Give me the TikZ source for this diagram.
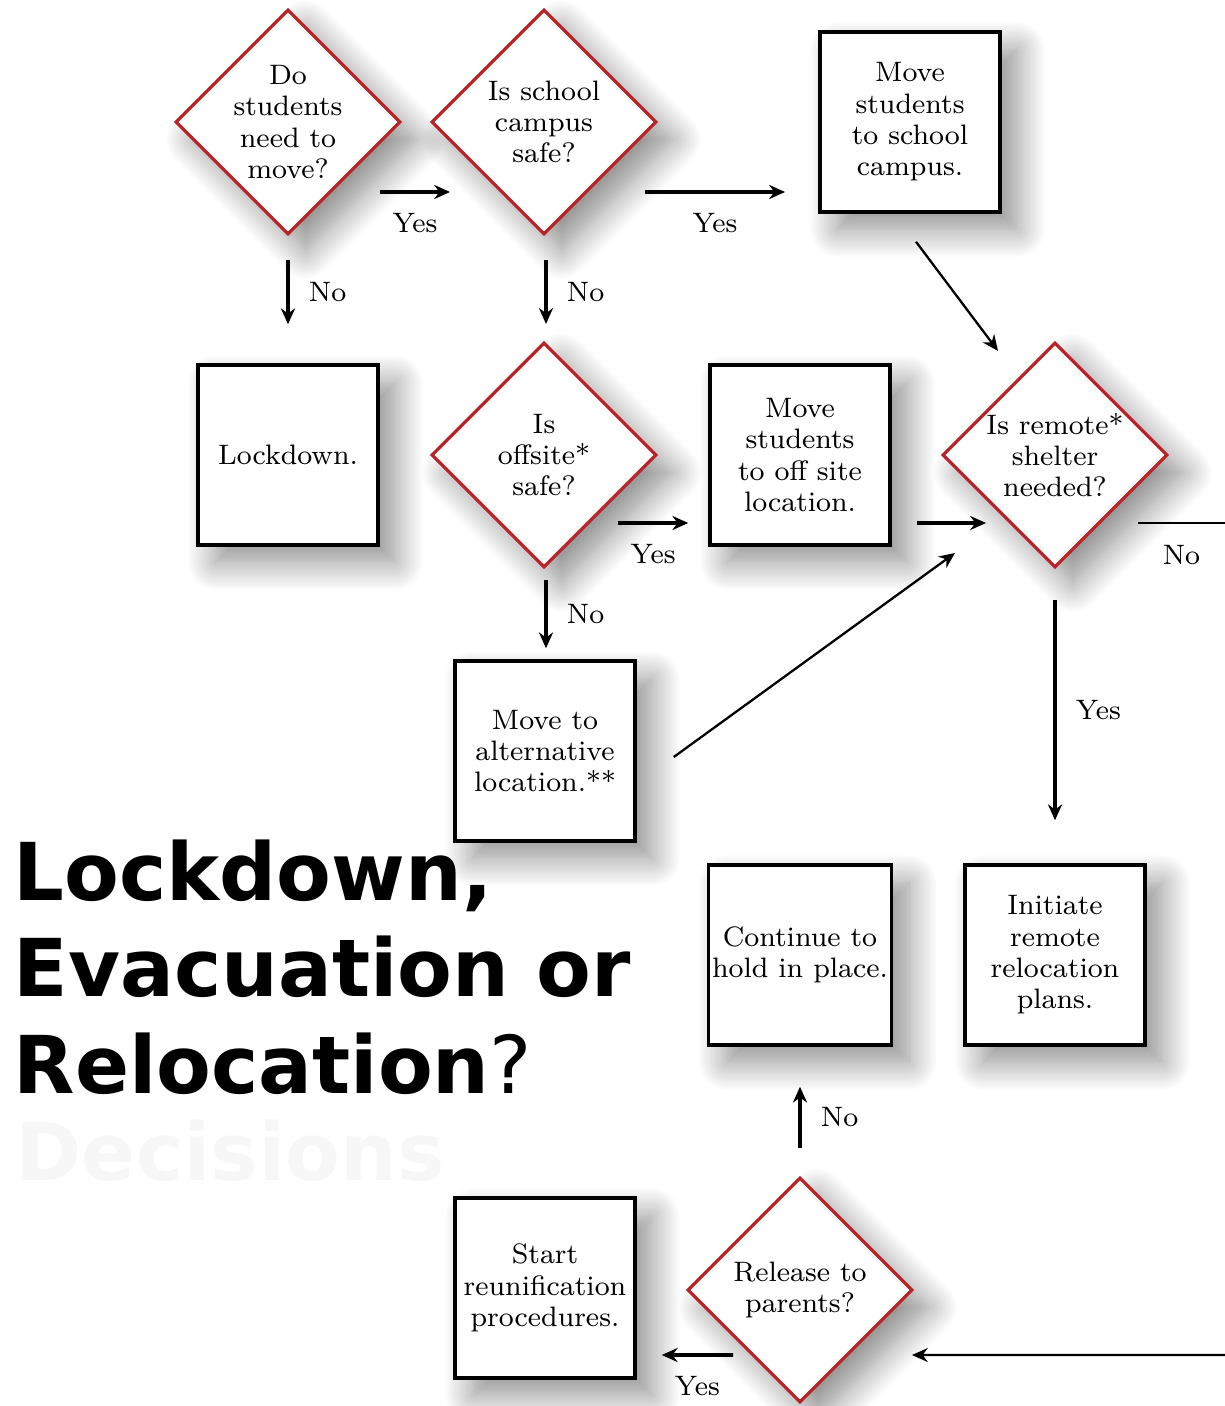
\documentclass[tikz,border=0pt]{standalone}
\usepackage{fontspec}
\usepackage{tikz}
\usetikzlibrary{shapes.geometric,arrows.meta,calc,shadows.blur}
\newfontfamily\headfont{DejaVu Sans}
\newcommand{\boxfont}{\fontsize{8}{8.9}\selectfont}
\definecolor{decred}{RGB}{185,35,40}
\tikzset{
  softshadow/.style={blur shadow={shadow xshift=5pt, shadow yshift=-5pt, shadow opacity=45,
    shadow blur radius=8pt, shadow blur steps=24}},
  decision/.style={diamond, aspect=1, draw=decred, line width=0.9pt, fill=white,
    minimum size=2.25cm, inner sep=0pt, align=center, font=\boxfont, softshadow},
  action/.style={rectangle, draw=black, line width=1pt, fill=white,
    minimum size=1.8cm, inner sep=1pt, align=center, font=\boxfont, softshadow},
  arr/.style={line width=1.1pt, -{Stealth[length=4.5pt,width=4pt]}},
  thinarr/.style={line width=0.65pt, -{Stealth[length=4.5pt,width=4pt]}},
  lbl/.style={font=\boxfont, inner sep=2pt},
  headline/.style={anchor=base west, inner sep=0pt, font=\headfont\bfseries\fontsize{22.7}{27}\selectfont}
}

\begin{document}
\begin{tikzpicture}
\useasboundingbox (0,0) rectangle (12.25,-14.06);

\node [headline, text=black!3] (ghost) at (0.15,-11.80) {Decisions};
\node [headline] (head1) at (0.13,-9.00) {Lockdown,};
\node [headline] (head2) at (0.13,-9.96) {Evacuation or};
\node [headline] (head3) at (0.13,-10.93) {Relocation{\mdseries ?}};

\node [decision] (move) at (2.88,-1.22) {Do\\students\\need to\\move?};
\node [decision] (campus) at (5.44,-1.22) {Is school\\campus\\safe?};
\node [action] (tocampus) at (9.10,-1.22) {Move\\students\\to school\\campus.};
\node [action] (lock) at (2.88,-4.55) {Lockdown.};
\node [decision] (offsite) at (5.44,-4.55) {Is\\offsite*\\safe?};
\node [action] (tooffsite) at (8.00,-4.55) {Move\\students\\to off site\\location.};
\node [decision] (remote) at (10.55,-4.55) {Is remote*\\shelter\\needed?};
\node [action] (alt) at (5.45,-7.51) {Move to\\alternative\\location.**};
\node [action] (hold) at (8.00,-9.55) {Continue to\\hold in place.};
\node [action] (initiate) at (10.55,-9.55) {Initiate\\remote\\relocation\\plans.};
\node [decision] (release) at (8.00,-12.90) {Release to\\parents?};
\node [action] (reunif) at (5.45,-12.88) {Start\\reunification\\procedures.};

\coordinate (outR) at (12.25,-5.23);
\coordinate (inR) at (12.25,-13.55);

\draw [arr] ($(move)+(0.92,-0.70)$) -- ($(campus)+(-0.94,-0.70)$) node [lbl,midway,below=0.12cm] {Yes};
\draw [arr] ($(campus)+(1.01,-0.70)$) -- ($(tocampus)+(-1.25,-0.70)$) node [lbl,midway,below=0.12cm] {Yes};
\draw [arr] ($(move.south)+(0,-0.24)$) -- ($(lock.north)+(0,0.39)$) node [lbl,midway,right=0.12cm] {No};
\draw [arr] ($(campus.south)+(0.02,-0.24)$) -- ($(offsite.north)+(0.02,0.17)$) node [lbl,midway,right=0.12cm] {No};
\draw [thinarr] ($(tocampus.south)+(0.06,-0.28)$) -- ($(remote.north)+(-0.57,-0.10)$);
\draw [arr] ($(offsite)+(0.74,-0.68)$) -- ($(tooffsite.west)+(-0.20,-0.68)$) node [lbl,midway,below=0.12cm] {Yes};
\draw [arr] ($(tooffsite.east)+(0.25,-0.68)$) -- ($(remote)+(-0.69,-0.68)$);
\draw [arr] ($(offsite.south)+(0.02,-0.11)$) -- ($(alt.north)+(0.01,0.11)$) node [lbl,midway,right=0.12cm] {No};
\draw [thinarr] ($(alt.east)+(0.37,-0.06)$) -- ($(remote)+(-1.00,-0.98)$);
\draw [line width=0.8pt] ($(remote)+(0.83,-0.68)$) -- (outR) node [lbl,midway,below=0.14cm] {No};
\draw [arr] ($(remote.south)+(0,-0.31)$) -- ($(initiate.north)+(0,0.43)$) node [lbl,midway,right=0.12cm] {Yes};
\draw [arr] ($(release.north)+(0,0.28)$) -- ($(hold.south)+(0,-0.40)$) node [lbl,midway,right=0.12cm] {No};
\draw [arr] ($(release)+(-0.67,-0.65)$) -- ($(reunif.east)+(0.25,-0.67)$) node [lbl,midway,below=0.12cm] {Yes};
\draw [thinarr] (inR) -- ($(release)+(1.12,-0.65)$);
\end{tikzpicture}
\end{document}
